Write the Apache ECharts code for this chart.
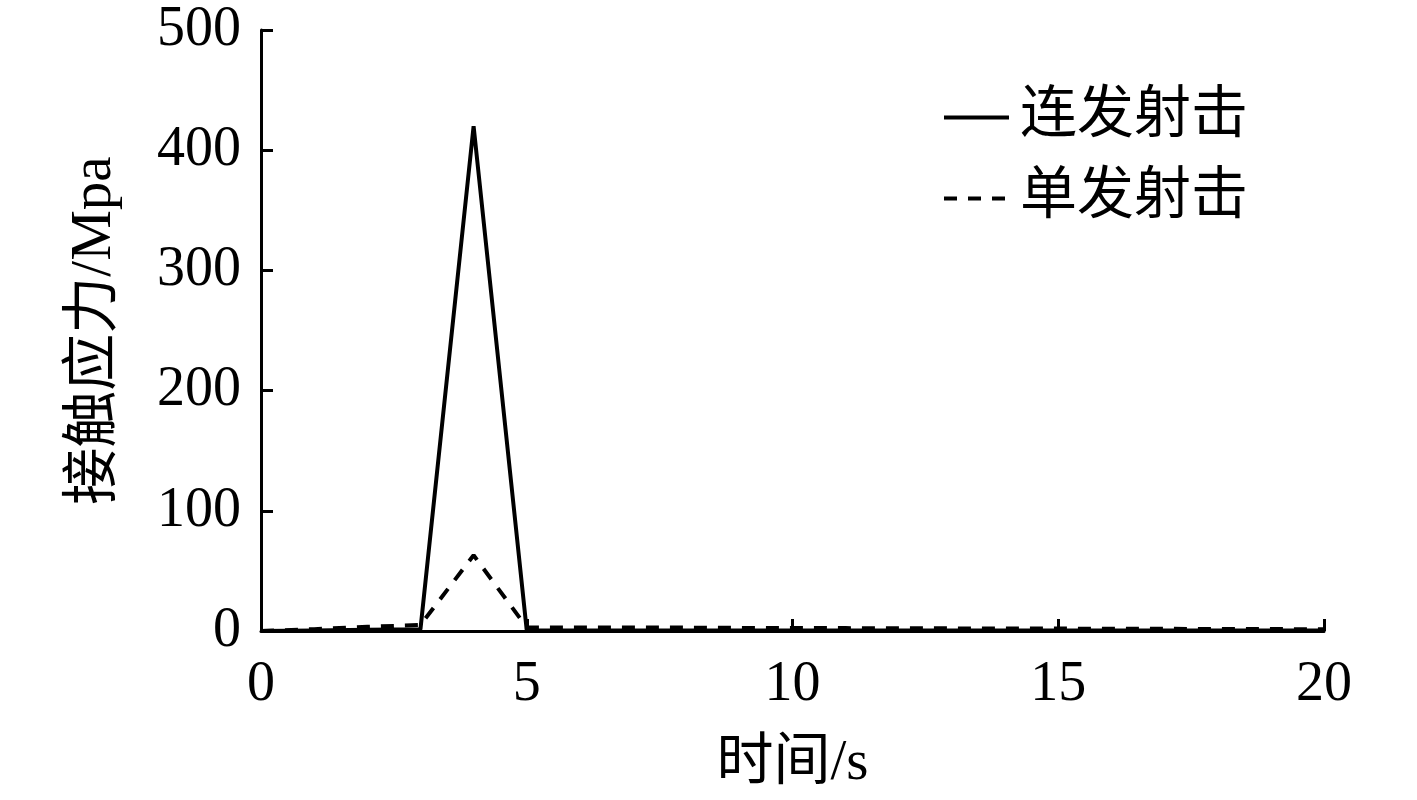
<!DOCTYPE html>
<html>
<head>
<meta charset="utf-8">
<script src="https://cdn.jsdelivr.net/npm/echarts@6/dist/echarts.min.js"></script>
<style>
  html, body { margin: 0; padding: 0; background: #fff; }
  #main { width: 1417px; height: 800px; }
</style>
</head>
<body>
<div id="main"></div>
<script>
// 时间 (s)
var timeData = [0, 1, 2, 3, 4, 5, 6, 7, 8, 9, 10, 11, 12, 13, 14, 15, 16, 17, 18, 19, 20];
// 连发射击
var burstData = [0, 0.5, 1, 1.5, 420, 0.5, 0.5, 0.5, 0.5, 0.5, 0.5, 0.5, 0.5, 0.5, 0.5, 0.5, 0.5, 0.5, 0.5, 0.5, 0.5];
// 单发射击
var singleData = [0, 1.5, 3.5, 5, 63, 3, 3, 3, 2.8, 2.6, 2.5, 2.4, 2.3, 2.2, 2, 2, 1.9, 1.8, 1.7, 1.6, 1.5];
var legendNames = ["连发射击", "单发射击"];

var fontFam = "'Liberation Serif', 'Times New Roman', 'Noto Sans CJK SC', serif";

function pairs(xs, ys) {
  return xs.map(function (x, i) { return [x, ys[i]]; });
}

var myChart = echarts.init(document.getElementById("main"));
var option = {
  animation: false,
  grid: { left: 261, right: 93, top: 30, bottom: 169, containLabel: false },
  legend: {
    data: legendNames,
    orient: "vertical",
    left: 937,
    top: 84,
    itemWidth: 65,
    itemHeight: 14,
    itemGap: 24,
    lineStyle: { width: 4 },
    itemStyle: { opacity: 0 },
    textStyle: { fontFamily: fontFam, fontSize: 57, color: "#000", padding: [0, 0, 0, 6] }
  },
  xAxis: {
    type: "value",
    min: 0,
    max: 20,
    interval: 5,
    name: "时间/s",
    nameLocation: "middle",
    nameGap: 105,
    nameTextStyle: { fontFamily: fontFam, fontSize: 57, color: "#000" },
    axisLine: { lineStyle: { color: "#000", width: 3 } },
    axisTick: { inside: true, length: 12, lineStyle: { color: "#000", width: 3 } },
    axisLabel: { fontFamily: fontFam, fontSize: 56, color: "#000", margin: 26 },
    splitLine: { show: false }
  },
  yAxis: {
    type: "value",
    min: 0,
    max: 500,
    interval: 100,
    name: "接触应力/Mpa",
    nameLocation: "middle",
    nameGap: 137,
    nameTextStyle: { fontFamily: fontFam, fontSize: 57, color: "#000" },
    axisLine: { lineStyle: { color: "#000", width: 3 } },
    axisTick: { inside: true, length: 12, lineStyle: { color: "#000", width: 3 } },
    axisLabel: { fontFamily: fontFam, fontSize: 56, color: "#000", margin: 20 },
    splitLine: { show: false }
  },
  series: [
    {
      name: legendNames[0],
      type: "line",
      symbol: "none",
      data: pairs(timeData, burstData),
      lineStyle: { color: "#000", width: 4, type: "solid" },
      itemStyle: { color: "#000" }
    },
    {
      name: legendNames[1],
      type: "line",
      symbol: "none",
      data: pairs(timeData, singleData),
      lineStyle: { color: "#000", width: 4, type: [13, 11] },
      itemStyle: { color: "#000" }
    }
  ]
};
myChart.setOption(option);
</script>
</body>
</html>
